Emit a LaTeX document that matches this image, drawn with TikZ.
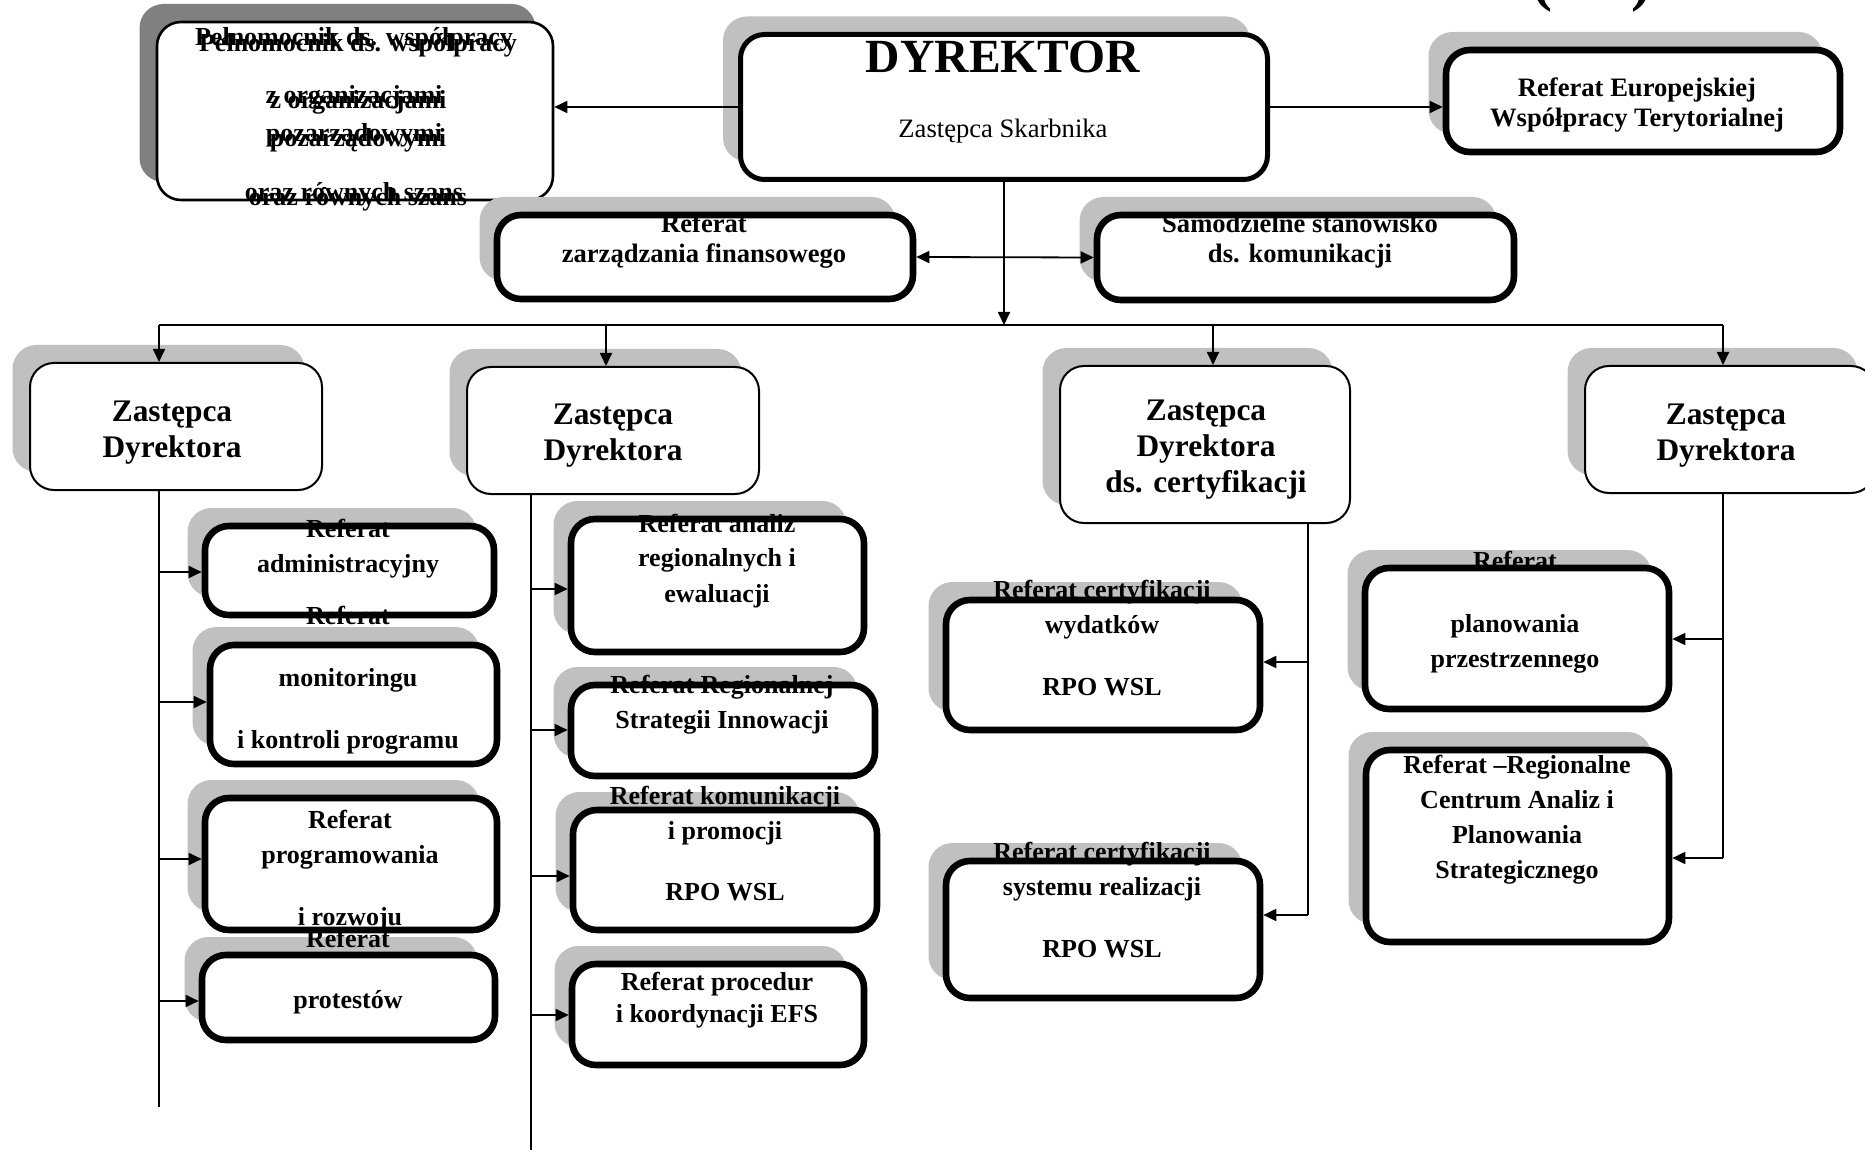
\documentclass[tikz,border=0pt]{standalone}
\usepackage{fontspec}
\setmainfont{Liberation Serif}
\usetikzlibrary{arrows.meta,shadows}
\definecolor{shadowgray}{HTML}{C0C0C0}
\definecolor{darkshadow}{HTML}{808080}
\tikzset{
  unitbox/.style={draw, fill=white, rounded corners=12pt, inner sep=0pt,
    drop shadow={shadow xshift=-8.75pt, shadow yshift=9pt, fill=#1, draw=none, opacity=1}},
  unitbox/.default=shadowgray,
  thinbox/.style={unitbox=#1, line width=1pt},
  thinbox/.default=shadowgray,
  thickbox/.style={unitbox, line width=3.3pt},
  lbl/.style={font=\bfseries\fontsize{13}{17.5}\selectfont, align=center, anchor=base, inner sep=0pt},
  deplbl/.style={lbl, font=\bfseries\fontsize{15.7}{18}\selectfont},
  wire/.style={line width=0.9pt},
  conn/.style={wire, -{Triangle[length=6.5pt,width=6pt]}},
  dconn/.style={wire, {Triangle[length=6.5pt,width=6pt]}-{Triangle[length=6.5pt,width=6pt]}}
}
\newcommand{\peltext}{Pełnomocnik ds. współpracy\\[10pt]z organizacjami\\pozarządowymi\\[10.5pt]oraz równych szans}

\begin{document}
\begin{tikzpicture}[x=0.5pt, y=-0.5pt]
\useasboundingbox (0,0) rectangle (1865,1150);
\clip (0,0) rectangle (1865,1150);

% top row
\node[thinbox=darkshadow, line width=1.3pt, minimum width=198pt, minimum height=89pt] (pel) at (355,111) {};
\node[unitbox, line width=2.5pt, minimum width=263.5pt, minimum height=72.5pt] (dyr) at (1004,107) {};
\node[thickbox, minimum width=197pt, minimum height=51pt] (eur) at (1643,101) {};
\node[font=\bfseries\fontsize{30}{30}\selectfont, anchor=base, inner sep=0pt] (paren) at (1592,0) {(\hspace{40pt})};

% second row
\node[thickbox, minimum width=208pt, minimum height=42pt] (fin) at (705,257) {};
\node[thickbox, minimum width=208.5pt, minimum height=42.5pt] (kom) at (1305.5,257.5) {};

% deputies
\node[thinbox, minimum width=146pt, minimum height=63.5pt] (zd1) at (176,426.5) {};
\node[thinbox, minimum width=146pt, minimum height=63.5pt] (zd2) at (613,430.5) {};
\node[thinbox, minimum width=145pt, minimum height=78.5pt] (zd3) at (1205,444.5) {};
\node[thinbox, minimum width=145pt, minimum height=63.5pt] (zd4) at (1730,429.5) {};

% first column
\node[thickbox, minimum width=144.5pt, minimum height=44.5pt] (adm) at (349.5,570.5) {};
\node[thickbox, minimum width=143.5pt, minimum height=59.5pt] (mon) at (353.5,704.5) {};
\node[thickbox, minimum width=146pt, minimum height=66pt] (prg) at (351,864) {};
\node[thickbox, minimum width=146.5pt, minimum height=42.5pt] (pro) at (348.5,997.5) {};

% second column
\node[thickbox, minimum width=146.5pt, minimum height=66.5pt] (ana) at (717.5,585.5) {};
\node[thickbox, minimum width=152pt, minimum height=45.5pt] (ris) at (723,730.5) {};
\node[thickbox, minimum width=152pt, minimum height=60pt] (pmc) at (725,870) {};
\node[thickbox, minimum width=146pt, minimum height=50.5pt] (efs) at (718,1014.5) {};

% certification column
\node[thickbox, minimum width=157pt, minimum height=65pt] (cw) at (1103,665) {};
\node[thickbox, minimum width=157pt, minimum height=68.5pt] (cs) at (1103,929.5) {};

% fourth column
\node[thickbox, minimum width=152pt, minimum height=70.5pt] (pln) at (1517,638.5) {};
\node[thickbox, minimum width=151.5pt, minimum height=96pt] (rca) at (1517.5,846) {};

% labels (anchored at the baseline of the last line)
\node[lbl, font=\bfseries\fontsize{13}{19}\selectfont] (pelA) at (354,201) {\peltext};
\node[lbl, font=\bfseries\fontsize{13}{19}\selectfont] (pelB) at (358,206) {\peltext};
\node[lbl, font=\bfseries\fontsize{23.8}{28}\selectfont] (dyrT) at (1003,73) {DYREKTOR};
\node[lbl, font=\fontsize{13.3}{16}\selectfont] (dyrS) at (1003,138) {Zastępca Skarbnika};
\node[lbl, font=\bfseries\fontsize{13.3}{15}\selectfont] (eurT) at (1637,127) {Referat Europejskiej\\Współpracy Terytorialnej};
\node[lbl, font=\bfseries\fontsize{13.3}{15}\selectfont] (finT) at (704,263) {Referat\\zarządzania finansowego};
\node[lbl, font=\bfseries\fontsize{13.3}{15}\selectfont] (komT) at (1300,263) {Samodzielne stanowisko\\ds. komunikacji};
\node[deplbl] (zd1T) at (172,458) {Zastępca\\Dyrektora};
\node[deplbl] (zd2T) at (613,460) {Zastępca\\Dyrektora};
\node[deplbl] (zd3T) at (1206,493) {Zastępca\\Dyrektora\\ds. certyfikacji};
\node[deplbl] (zd4T) at (1726,460) {Zastępca\\Dyrektora};
\node[lbl] (admT) at (348,572) {Referat\\administracyjny};
\node[lbl, font=\bfseries\fontsize{13}{15.5}\selectfont] (monT) at (348,748) {Referat\\[15.5pt]monitoringu\\[15.5pt]i kontroli programu};
\node[lbl] (prgT) at (350,925) {Referat\\programowania\\[13.5pt]i rozwoju};
\node[lbl] (proT) at (348,1008) {Referat\\[13pt]protestów};
\node[lbl] (anaT) at (717,602) {Referat analiz\\regionalnych i\\ewaluacji};
\node[lbl] (risT) at (722,728) {Referat Regionalnej\\Strategii Innowacji};
\node[lbl] (pmcT) at (725,900) {Referat komunikacji\\i promocji\\[13pt]RPO WSL};
\node[lbl, font=\bfseries\fontsize{13}{16}\selectfont] (efsT) at (717,1022) {Referat procedur\\i koordynacji EFS};
\node[lbl] (cwT) at (1102,695) {Referat certyfikacji\\wydatków\\[13.5pt]RPO WSL};
\node[lbl] (csT) at (1102,957) {Referat certyfikacji\\systemu realizacji\\[13.5pt]RPO WSL};
\node[lbl] (plnT) at (1515,667) {Referat\\[14pt]planowania\\przestrzennego};
\node[lbl] (rcaT) at (1517,878) {Referat –Regionalne\\Centrum Analiz i\\Planowania\\Strategicznego};

% director links
\draw[conn] (dyr.west) -- (dyr.west -| pel.east);
\draw[conn] (dyr.east) -- (dyr.east -| eur.west);
\draw[dconn] (fin.east) -- (kom.west);
\coordinate (bus) at (1004,325);
\draw[conn] (dyr.south) -- (bus);

% bus to deputies
\coordinate (b1) at (159,325);
\coordinate (b2) at (606,325);
\coordinate (b3) at (1213,325);
\coordinate (b4) at (1723,325);
\draw[wire] (b1) -- (b4);
\draw[conn] (b1) -- (b1 |- zd1.north);
\draw[conn] (b2) -- (b2 |- zd2.north);
\draw[conn] (b3) -- (b3 |- zd3.north);
\draw[conn] (b4) -- (b4 |- zd4.north);

% first column links
\coordinate (l0) at (159,1107);
\coordinate (l1) at (159,572);
\coordinate (l2) at (159,702);
\coordinate (l3) at (159,859);
\coordinate (l4) at (159,1001);
\draw[wire] (zd1.south -| l0) -- (l0);
\draw[conn] (l1) -- (l1 -| adm.west);
\draw[conn] (l2) -- (l2 -| mon.west);
\draw[conn] (l3) -- (l3 -| prg.west);
\draw[conn] (l4) -- (l4 -| pro.west);

% second column links
\coordinate (m0) at (531,1150);
\coordinate (m1) at (531,589);
\coordinate (m2) at (531,730);
\coordinate (m3) at (531,876);
\coordinate (m4) at (531,1015);
\draw[wire] (zd2.south -| m0) -- (m0);
\draw[conn] (m1) -- (m1 -| ana.west);
\draw[conn] (m2) -- (m2 -| ris.west);
\draw[conn] (m3) -- (m3 -| pmc.west);
\draw[conn] (m4) -- (m4 -| efs.west);

% certification links
\coordinate (c1) at (1308,662);
\coordinate (c2) at (1308,915);
\draw[wire] (zd3.south -| c2) -- (c2);
\draw[conn] (c1) -- (c1 -| cw.east);
\draw[conn] (c2) -- (c2 -| cs.east);

% fourth column links
\coordinate (r1) at (1723,639);
\coordinate (r2) at (1723,858);
\draw[wire] (zd4.south -| r2) -- (r2);
\draw[conn] (r1) -- (r1 -| pln.east);
\draw[conn] (r2) -- (r2 -| rca.east);

\end{tikzpicture}
\end{document}
